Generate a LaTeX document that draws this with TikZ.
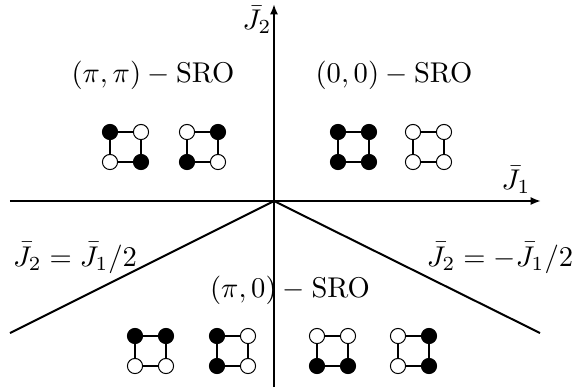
\documentclass[tikz,border=0pt]{standalone}
\usetikzlibrary{arrows.meta}
\tikzset{
  axis/.style={line width=0.7pt,-{Latex[length=3.6pt,width=2.8pt]}},
  boundary/.style={line width=0.7pt},
  bond/.style={line width=1pt},
  site/.style={circle,draw=black,line width=0.35pt,inner sep=0pt,minimum size=5.3pt},
  lbl/.style={inner sep=0pt}
}
\newcommand{\plaquette}[7]{%
  \node[site,fill=#4] (#1tl) at (#2,#3) {};
  \node[site,fill=#5] (#1tr) at (#2+31,#3) {};
  \node[site,fill=#6] (#1bl) at (#2,#3+30) {};
  \node[site,fill=#7] (#1br) at (#2+31,#3+30) {};
  \draw[bond] (#1tl) -- (#1tr);
  \draw[bond] (#1tr) -- (#1br);
  \draw[bond] (#1br) -- (#1bl);
  \draw[bond] (#1bl) -- (#1tl);
}
\begin{document}
\begin{tikzpicture}[x=0.35pt,y=-0.35pt]
\useasboundingbox (0,0) rectangle (578,387);
% axes
\coordinate (O) at (274,201);
\coordinate (xl) at (10,201);
\coordinate (xr) at (541,201);
\coordinate (yb) at (274,387);
\coordinate (yt) at (274,4);
\coordinate (dl) at (10,333);
\coordinate (dr) at (540,333);
\draw[axis] (xl) -- (xr);
\draw[axis] (yb) -- (yt);
\draw[boundary] (dl) -- (O) -- (dr);
% labels
\node[lbl] (lJ2) at (257,20) {$\bar J_2$};
\node[lbl] (lJ1) at (516,180) {$\bar J_1$};
\node[lbl] (lpp) at (153,75) {$(\pi,\pi)-\mathrm{SRO}$};
\node[lbl] (l00) at (394,75) {$(0,0)-\mathrm{SRO}$};
\node[lbl] (lp0) at (290,290) {$(\pi,0)-\mathrm{SRO}$};
\node[lbl] (lleft) at (75,258) {$\bar J_2=\bar J_1/2$};
\node[lbl] (lright) at (500,258) {$\bar J_2=-\bar J_1/2$};
% plaquettes
\plaquette{a}{110}{132}{black}{white}{white}{black}
\plaquette{b}{187}{132}{white}{black}{black}{white}
\plaquette{c}{338}{132}{black}{black}{black}{black}
\plaquette{d}{413}{132}{white}{white}{white}{white}
\plaquette{e}{135}{336}{black}{black}{white}{white}
\plaquette{f}{217}{336}{black}{white}{black}{white}
\plaquette{g}{317}{336}{white}{white}{black}{black}
\plaquette{h}{398}{336}{white}{black}{white}{black}
\end{tikzpicture}
\end{document}
